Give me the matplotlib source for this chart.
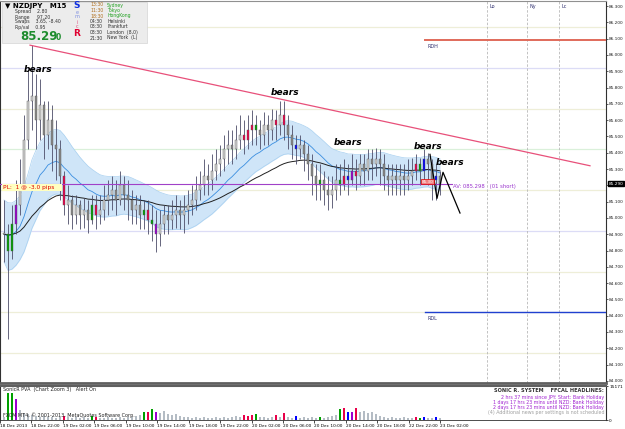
import numpy as np
import pandas as pd
import matplotlib
matplotlib.use('Agg')
import matplotlib.pyplot as plt
from matplotlib.patches import Rectangle

# NZDJPY bars (one entry per bar, left to right)
close = [84.90, 84.80, 84.96, 85.08, 85.20, 85.48, 85.72, 85.75, 85.60, 85.69,
         85.51, 85.60, 85.45, 85.42, 85.26, 85.08, 85.11, 85.02, 85.08, 85.02,
         85.05, 84.99, 85.08, 85.02, 85.05, 85.11, 85.14, 85.17, 85.11, 85.20,
         85.14, 85.11, 85.05, 85.08, 85.02, 85.05, 84.99, 84.96, 84.90, 84.96,
         85.02, 84.99, 85.02, 85.05, 85.02, 85.05, 85.08, 85.11, 85.17, 85.20,
         85.26, 85.23, 85.29, 85.33, 85.36, 85.42, 85.45, 85.42, 85.48, 85.51,
         85.48, 85.54, 85.57, 85.54, 85.51, 85.57, 85.54, 85.60, 85.57, 85.63,
         85.57, 85.51, 85.45, 85.42, 85.45, 85.39, 85.33, 85.26, 85.20, 85.23,
         85.17, 85.14, 85.17, 85.23, 85.20, 85.26, 85.23, 85.29, 85.26, 85.33,
         85.29, 85.36, 85.33, 85.36, 85.33, 85.26, 85.23, 85.26, 85.23, 85.26,
         85.23, 85.26, 85.29, 85.33, 85.29, 85.36, 85.33, 85.23, 85.26, 85.20]
high = [85.11, 84.96, 85.08, 85.23, 85.36, 85.63, 85.91, 86.06, 85.88, 85.85,
        85.72, 85.72, 85.69, 85.60, 85.48, 85.29, 85.20, 85.14, 85.14, 85.11,
        85.12, 85.11, 85.14, 85.14, 85.14, 85.20, 85.23, 85.26, 85.23, 85.29,
        85.26, 85.23, 85.17, 85.14, 85.14, 85.11, 85.11, 85.08, 85.05, 85.05,
        85.08, 85.08, 85.11, 85.14, 85.11, 85.14, 85.17, 85.20, 85.26, 85.29,
        85.36, 85.33, 85.39, 85.42, 85.45, 85.51, 85.54, 85.54, 85.57, 85.63,
        85.60, 85.63, 85.66, 85.63, 85.60, 85.65, 85.63, 85.67, 85.66, 85.72,
        85.72, 85.63, 85.57, 85.51, 85.51, 85.48, 85.45, 85.39, 85.33, 85.33,
        85.29, 85.26, 85.26, 85.33, 85.33, 85.36, 85.33, 85.39, 85.36, 85.39,
        85.39, 85.42, 85.42, 85.43, 85.42, 85.39, 85.33, 85.33, 85.33, 85.33,
        85.33, 85.36, 85.37, 85.39, 85.37, 85.42, 85.40, 85.36, 85.33, 85.29]
low = [84.73, 84.26, 84.75, 84.90, 85.02, 85.17, 85.42, 85.54, 85.42, 85.48,
       85.36, 85.42, 85.29, 85.23, 85.11, 85.02, 84.96, 84.93, 84.96, 84.93,
       84.94, 84.91, 84.96, 84.93, 84.96, 84.99, 85.02, 85.05, 85.02, 85.08,
       85.05, 84.99, 84.96, 84.96, 84.93, 84.93, 84.90, 84.86, 84.79, 84.83,
       84.90, 84.90, 84.93, 84.94, 84.93, 84.91, 84.96, 85.02, 85.05, 85.11,
       85.14, 85.14, 85.17, 85.23, 85.26, 85.29, 85.33, 85.33, 85.36, 85.42,
       85.39, 85.42, 85.45, 85.45, 85.42, 85.45, 85.45, 85.48, 85.48, 85.51,
       85.48, 85.42, 85.36, 85.33, 85.36, 85.29, 85.23, 85.14, 85.11, 85.11,
       85.08, 85.05, 85.06, 85.11, 85.14, 85.17, 85.14, 85.20, 85.17, 85.20,
       85.20, 85.23, 85.23, 85.26, 85.20, 85.17, 85.14, 85.14, 85.14, 85.14,
       85.14, 85.17, 85.20, 85.23, 85.20, 85.23, 85.20, 85.11, 85.11, 85.14]
volume = [1300, 12000, 12000, 9400, 4500, 3100, 2700, 2200, 1800, 1300,
          1800, 1300, 1300, 900, 1300, 1800, 1300, 900, 1300, 900,
          1300, 900, 1800, 1300, 900, 900, 1300, 900, 900, 1300,
          900, 1300, 1300, 1800, 2200, 3600, 3600, 4900, 3600, 3100,
          4000, 2700, 2200, 2700, 1800, 1300, 1300, 900, 1300, 900,
          1300, 900, 900, 1300, 900, 1300, 900, 1300, 1800, 1300,
          2200, 1800, 2200, 2700, 1300, 1300, 900, 1300, 2200, 1300,
          3100, 1300, 900, 1800, 900, 1300, 900, 1300, 900, 1300,
          900, 1300, 1800, 2200, 4900, 5400, 3600, 3600, 5400, 3600,
          4000, 3100, 3600, 2700, 1800, 1300, 900, 1300, 900, 900,
          1300, 900, 900, 1300, 900, 1300, 900, 900, 1300, 900]

# SonicR PVA highlighted bars
pva_bars = [1, 2, 3, 15, 22, 23, 35, 36, 37, 38, 60, 61, 62, 63, 68, 70, 73,
            79, 84, 85, 86, 87, 88, 103, 104, 105, 108]
pva_kind = ['g', 'g', 'p', 'r', 'g', 'r', 'g', 'r', 'g', 'p', 'r', 'r', 'r', 'g', 'r', 'r', 'b',
            'g', 'g', 'r', 'b', 'p', 'r', 'r', 'g', 'b', 'b']

date_labels = ['18 Dec 2013', '18 Dec 22:00', '19 Dec 02:00', '19 Dec 06:00', '19 Dec 10:00',
               '19 Dec 14:00', '19 Dec 18:00', '19 Dec 22:00', '20 Dec 02:00', '20 Dec 06:00',
               '20 Dec 10:00', '20 Dec 14:00', '20 Dec 18:00', '22 Dec 22:00', '23 Dec 02:00']

# levels / drawn objects
pivot_levels = [86.17, 85.92, 85.67, 85.42, 85.17, 84.92, 84.67, 84.42, 84.17]
pivot_colours = ['#eeeed8', '#dcdcf6', '#eeeed8', '#daf0da', '#eeeed8', '#dcdcf6', '#eeeed8', '#eeeed8', '#eeeed8']
rdh, rdl = 86.09, 84.42
trend_x, trend_y = [6.5, 146.5], [86.06, 85.32]
zig_x, zig_y = [106.5, 108.25, 109.75, 114.0], [85.39, 85.12, 85.28, 85.03]
bears_x = [8.5, 70.25, 86.0, 106.0, 111.5]
bears_y = [85.91, 85.77, 85.46, 85.44, 85.34]
sessions = [120.75, 130.75, 138.75]
session_names = ['Lo', 'Ny', 'Lc']
pl_price = 85.21

cmap = {'g': '#00a000', 'r': '#e8004a', 'b': '#0000ff', 'p': '#9b00d0'}

n = len(close)
idx = np.arange(n)
opens = [close[0]] + close[:-1]
df = pd.DataFrame({'o': opens, 'h': high, 'l': low, 'c': close, 'v': volume})
ema_h = df['h'].ewm(span=17, adjust=False).mean()
ema_l = df['l'].ewm(span=17, adjust=False).mean()
ema_c = df['c'].ewm(span=17, adjust=False).mean()
ema_slow = df['c'].ewm(span=45, adjust=False).mean()

bar_col = ['#b4bcc4'] * n
for i, k in zip(pva_bars, pva_kind):
    bar_col[i] = cmap[k]

fig = plt.figure(figsize=(6.25, 4.29), dpi=100)
ax = fig.add_axes([0.0, 46 / 429, 606 / 625, 382 / 429])
vax = fig.add_axes([0.0, 9 / 429, 606 / 625, 34 / 429])

# ---- main chart
for lv, col in zip(pivot_levels, pivot_colours):
    ax.axhline(lv, color=col, lw=0.9, zorder=1)
for s, name in zip(sessions, session_names):
    ax.axvline(s, color='#b8b8b8', lw=0.6, ls=(0, (3, 2)), zorder=1)
    ax.text(s + 0.6, 86.31, name, fontsize=3.5, color='#303070', va='top')

ax.fill_between(idx, ema_l, ema_h, color='#cfe5f8', lw=0, zorder=2)
ax.plot(idx, ema_h, color='#a8d0f0', lw=0.5, zorder=2)
ax.plot(idx, ema_l, color='#a8d0f0', lw=0.5, zorder=2)
ax.plot(idx, ema_c, color='#3a8ee0', lw=0.6, zorder=3)
ax.plot(idx, ema_slow, color='#202020', lw=0.7, zorder=3)

for i in range(n):
    o, c = opens[i], close[i]
    ax.vlines(i, min(low[i], o, c), max(high[i], o, c), color='#4c4c68', lw=0.6, zorder=4)
    fc = '#d4d4d4' if c >= o else '#8a8a8a'
    if bar_col[i] != '#b4bcc4':
        fc = bar_col[i]
    h = c - o if abs(c - o) > 0.004 else 0.008
    ax.bar(i, h, bottom=o, width=0.6, color=fc, edgecolor='#555555', lw=0.3, zorder=5)

ax.plot(trend_x, trend_y, color='#e8507a', lw=0.9, zorder=6)
ax.plot([105.25, 150.5], [rdh, rdh], color='#e06a5a', lw=1.4, zorder=6)
ax.plot([105.25, 150.5], [rdl, rdl], color='#2040d0', lw=1.0, zorder=6)
ax.text(105.8, rdh - 0.02, 'RDH', fontsize=3.5, color='#303070', va='top')
ax.text(105.8, rdl - 0.02, 'RDL', fontsize=3.5, color='#303070', va='top')
ax.plot([-1, 112], [pl_price, pl_price], color='#a040c8', lw=0.8, zorder=6)
ax.plot(zig_x, zig_y, color='black', lw=0.9, zorder=7)
ax.text(104.5, pl_price + 0.012, '85.30', fontsize=3, color='white', va='center', zorder=8,
        bbox=dict(boxstyle='square,pad=0.15', fc='#f08080', ec='#e00000', lw=0.5))
ax.text(112.3, pl_price - 0.02, 'AV: 085.298   (01 short)', fontsize=3.8, color='#9933cc',
        va='center', zorder=8)
for bx, by in zip(bears_x, bears_y):
    ax.text(bx, by, 'bears', fontsize=6.5, fontweight='bold', style='italic',
            ha='center', va='center', zorder=8)

ax.set_xlim(-1, 150.5)
ax.set_ylim(83.987, 86.331)
ax.yaxis.tick_right()
yt = np.round(np.arange(84.0, 86.31, 0.1), 1)
ax.set_yticks(yt)
ax.set_yticklabels(['' if abs(v - 85.2) < 1e-6 else '%.3f' % v for v in yt])
ax.tick_params(axis='y', labelsize=3.1, length=1.5, width=0.5, pad=0.8, colors='#202020')
ax.set_xticks([])
ax.text(1.004, pl_price, '85.290', transform=ax.get_yaxis_transform(), fontsize=3.1,
        color='white', va='center', zorder=9,
        bbox=dict(boxstyle='square,pad=0.15', fc='black', ec='black'))
for sp in ['left', 'right']:
    ax.spines[sp].set_color('#303030')
    ax.spines[sp].set_linewidth(0.8)
ax.spines['top'].set_color('#909090')
ax.spines['bottom'].set_color('#606060')
ax.spines['bottom'].set_linewidth(2)

# ---- SonicR PVA volume window
vax.bar(idx, volume, width=0.55, color=bar_col)
vax.set_xlim(-1, 150.5)
vax.set_ylim(0, 15171)
vax.yaxis.tick_right()
vax.set_yticks([0, 15171])
vax.set_yticklabels(['0', '15171'])
vax.tick_params(axis='y', labelsize=3.1, length=1.5, width=0.5, pad=0.8)
tick_pos = -1 + 7.86 * np.arange(len(date_labels))
vax.set_xticks(tick_pos)
vax.set_xticklabels(date_labels, ha='left')
vax.tick_params(axis='x', labelsize=3.1, length=2, width=0.5, pad=1)
for sp in ['left', 'right']:
    vax.spines[sp].set_color('#303030')
    vax.spines[sp].set_linewidth(0.8)
vax.spines['top'].set_color('#606060')
vax.spines['top'].set_linewidth(1.5)
vax.spines['bottom'].set_color('#303030')
vax.spines['bottom'].set_linewidth(0.6)

# ---- overlay texts (pixel coordinates)
ov = fig.add_axes([0, 0, 1, 1], zorder=10)
ov.set_xlim(0, 625)
ov.set_ylim(429, 0)
ov.axis('off')
ov.patch.set_visible(False)

ov.add_patch(Rectangle((2, 2), 145, 41, fc='#ececec', ec='#d4d4d4', lw=0.5))
ov.text(5, 6, '\u25bc NZDJPY   M15', fontsize=5, fontweight='bold', va='center')
for j, line in enumerate(['Spread    2.80', 'Range     97.20', 'Swaps    3.65, -8.40', 'Rp/val    0.95']):
    ov.text(15, 12 + 5 * j, line, fontsize=3.3, color='#303030', va='center')
ov.text(20, 36, '85.29', fontsize=8.5, fontweight='bold', color='#1e8c2e', va='center')
ov.text(56, 37, '0', fontsize=5.5, fontweight='bold', color='#1e8c2e', va='center')
ov.text(77, 6, 'S', fontsize=6.5, fontweight='bold', color='#1030e0', ha='center', va='center')
ov.text(77, 12, 'e', fontsize=3.5, color='#8090e0', ha='center', va='center')
ov.text(77, 17, 'm', fontsize=3.5, color='#8090e0', ha='center', va='center')
ov.text(77, 22, 'i', fontsize=3.5, color='#e05080', ha='center', va='center')
ov.text(77, 27, 'c', fontsize=3.5, color='#e05080', ha='center', va='center')
ov.text(77, 34, 'R', fontsize=6.5, fontweight='bold', color='#e00030', ha='center', va='center')
sess_t = ['13:30', '11:30', '18:30', '04:30', '03:30', '03:30', '21:30']
sess_n = ['Sydney', 'Tokyo', 'HongKong', 'Helsinki', 'Frankfurt', 'London  (8,0)', 'New York  (L)']
for j, (t, nm) in enumerate(zip(sess_t, sess_n)):
    tc, nc = ('#b07020', '#20a020') if j < 3 else ('#303030', '#303030')
    ov.text(90, 5 + 5.5 * j, t, fontsize=3.3, color=tc, va='center')
    ov.text(107, 5 + 5.5 * j, nm, fontsize=3.3, color=nc, va='center')

ov.add_patch(Rectangle((2, 184), 60, 7, fc='#ffffc0', ec='none'))
ov.text(3, 187.5, 'PL:  1 @ -3.0 pips', fontsize=4.2, color='#e00000', va='center')

ov.text(3, 389, 'SonicR PVA  (Chart Zoom 3)   Alert On', fontsize=3.5, color='#202020', va='center')
ov.text(3, 415, 'FXCM MT4, \u00a9 2001-2013, MetaQuotes Software Corp.', fontsize=3.5,
        color='#202020', va='center')
ov.text(604, 391, 'SONIC R. SYSTEM    FFCAL HEADLINES:', fontsize=3.6, fontweight='bold',
        color='#303030', ha='right', va='center')
news = ['2 hrs 37 mins since JPY: Start: Bank Holiday',
        '1 days 17 hrs 23 mins until NZD: Bank Holiday',
        '2 days 17 hrs 23 mins until NZD: Bank Holiday',
        '(4) Additional news per settings is not scheduled']
for j, line in enumerate(news):
    ov.text(604, 397 + 5.3 * j, line, fontsize=3.4, ha='right', va='center',
            color='#a020d0' if j < 3 else '#a0a0a0')

fig.savefig('out.png', dpi=100)
